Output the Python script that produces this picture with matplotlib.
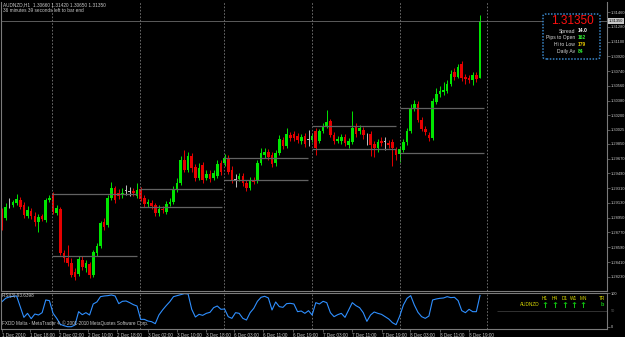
import matplotlib
matplotlib.use("Agg")
import matplotlib.pyplot as plt
from matplotlib.patches import FancyBboxPatch
import matplotlib.transforms as mtransforms

plt.rcParams['font.family'] = ['Liberation Sans', 'DejaVu Sans']

# AUDNZD H1 candles (bar index = hour slot)
opens = [1.29008, 1.28947, 1.29100, 1.29105, 1.29130, 1.29166, 1.29105, 1.28971, 1.29032, 1.28971,
         1.28898, 1.28971, 1.28922, 1.29166, 1.29240, 1.29008, 1.29057, 1.28520, 1.28459, 1.28398,
         1.28288, 1.28264, 1.28434, 1.28337, 1.28386, 1.28251, 1.28520, 1.28605, 1.28898, 1.28861,
         1.29191, 1.29313, 1.29252, 1.29227, 1.29282, 1.29264, 1.29276, 1.29215, 1.29301, 1.29191,
         1.29118, 1.29130, 1.29105, 1.29008, 1.29057, 1.29020, 1.29118, 1.29142, 1.29288, 1.29374,
         1.29654, 1.29532, 1.29703, 1.29569, 1.29435, 1.29593, 1.29435, 1.29484, 1.29435, 1.29459,
         1.29618, 1.29618, 1.29679, 1.29532, 1.29410, 1.29423, 1.29459, 1.29374, 1.29313, 1.29410,
         1.29398, 1.29618, 1.29715, 1.29752, 1.29715, 1.29618, 1.29740, 1.29898, 1.29825, 1.29959,
         1.29972, 1.29947, 1.29886, 1.29947, 1.29898, 1.29898, 1.30008, 1.29886, 1.30008, 1.30069,
         1.30130, 1.29959, 1.29886, 1.29886, 1.29935, 1.29837, 1.29874, 1.30069, 1.30008, 1.30020,
         1.29905, 1.29972, 1.29850, 1.29801, 1.29886, 1.29874, 1.29862, 1.29874, 1.29776, 1.29728,
         1.29776, 1.29874, 1.30008, 1.30277, 1.30338, 1.30142, 1.30033, 1.29959, 1.29923, 1.30362,
         1.30460, 1.30484, 1.30496, 1.30582, 1.30728, 1.30667, 1.30826, 1.30667, 1.30655, 1.30630,
         1.30691, 1.30660]
highs = [1.29069, 1.29130, 1.29191, 1.29166, 1.29240, 1.29203, 1.29142, 1.29093, 1.29069, 1.29020,
         1.28996, 1.28996, 1.29191, 1.29227, 1.29264, 1.29105, 1.29081, 1.28556, 1.28617, 1.28459,
         1.28337, 1.28483, 1.28483, 1.28434, 1.28410, 1.28556, 1.28642, 1.28910, 1.28947, 1.29227,
         1.29386, 1.29337, 1.29301, 1.29313, 1.29349, 1.29325, 1.29313, 1.29374, 1.29325, 1.29227,
         1.29179, 1.29166, 1.29130, 1.29105, 1.29093, 1.29154, 1.29191, 1.29337, 1.29435, 1.29703,
         1.29776, 1.29752, 1.29740, 1.29606, 1.29618, 1.29630, 1.29532, 1.29532, 1.29532, 1.29654,
         1.29654, 1.29728, 1.29715, 1.29581, 1.29484, 1.29496, 1.29496, 1.29410, 1.29447, 1.29447,
         1.29654, 1.29801, 1.29801, 1.29789, 1.29752, 1.29776, 1.29959, 1.29935, 1.30045, 1.29996,
         1.30008, 1.29984, 1.29972, 1.29984, 1.30020, 1.29984, 1.30045, 1.30033, 1.30106, 1.30264,
         1.30155, 1.29996, 1.29947, 1.29972, 1.29972, 1.29923, 1.30252, 1.30106, 1.30081, 1.30057,
         1.29984, 1.30008, 1.29886, 1.29911, 1.29935, 1.29935, 1.29898, 1.29911, 1.29813, 1.29825,
         1.29911, 1.30045, 1.30338, 1.30386, 1.30374, 1.30179, 1.30069, 1.29996, 1.30411, 1.30533,
         1.30557, 1.30606, 1.30630, 1.30752, 1.30777, 1.30826, 1.30862, 1.30704, 1.30691, 1.30728,
         1.30728, 1.31420]
lows = [1.28800, 1.28922, 1.29069, 1.29081, 1.29105, 1.29057, 1.28947, 1.28947, 1.28935, 1.28849,
        1.28776, 1.28910, 1.28898, 1.29142, 1.28996, 1.28983, 1.28495, 1.28410, 1.28361, 1.28227,
        1.28190, 1.28239, 1.28312, 1.28288, 1.28215, 1.28227, 1.28483, 1.28581, 1.28800, 1.28837,
        1.29166, 1.29130, 1.29179, 1.29191, 1.29227, 1.29215, 1.29215, 1.29191, 1.29154, 1.29081,
        1.29081, 1.29057, 1.28971, 1.28971, 1.29008, 1.28996, 1.29093, 1.29118, 1.29264, 1.29349,
        1.29508, 1.29508, 1.29508, 1.29398, 1.29410, 1.29374, 1.29410, 1.29386, 1.29410, 1.29435,
        1.29471, 1.29581, 1.29484, 1.29374, 1.29325, 1.29398, 1.29337, 1.29276, 1.29288, 1.29362,
        1.29374, 1.29593, 1.29679, 1.29654, 1.29569, 1.29581, 1.29715, 1.29789, 1.29801, 1.29886,
        1.29886, 1.29862, 1.29850, 1.29813, 1.29825, 1.29874, 1.29715, 1.29862, 1.29984, 1.30045,
        1.29935, 1.29850, 1.29862, 1.29850, 1.29825, 1.29801, 1.29850, 1.29935, 1.29972, 1.29911,
        1.29837, 1.29703, 1.29691, 1.29752, 1.29825, 1.29776, 1.29801, 1.29581, 1.29654, 1.29630,
        1.29752, 1.29837, 1.29984, 1.30252, 1.30118, 1.30008, 1.29959, 1.29886, 1.29898, 1.30338,
        1.30423, 1.30447, 1.30472, 1.30557, 1.30630, 1.30655, 1.30618, 1.30582, 1.30594, 1.30569,
        1.30606, 1.30650]
closes = [1.28837, 1.29081, 1.29100, 1.29142, 1.29179, 1.29081, 1.28983, 1.29044, 1.28971, 1.28898,
          1.28959, 1.28935, 1.29166, 1.29191, 1.29020, 1.29069, 1.28520, 1.28459, 1.28398, 1.28251,
          1.28227, 1.28446, 1.28349, 1.28398, 1.28251, 1.28532, 1.28605, 1.28886, 1.28837, 1.29191,
          1.29313, 1.29166, 1.29215, 1.29252, 1.29282, 1.29264, 1.29252, 1.29288, 1.29179, 1.29118,
          1.29142, 1.29093, 1.29008, 1.29057, 1.29044, 1.29118, 1.29142, 1.29288, 1.29374, 1.29654,
          1.29532, 1.29703, 1.29557, 1.29435, 1.29557, 1.29410, 1.29484, 1.29423, 1.29496, 1.29606,
          1.29508, 1.29679, 1.29508, 1.29398, 1.29410, 1.29459, 1.29374, 1.29313, 1.29410, 1.29386,
          1.29618, 1.29740, 1.29752, 1.29691, 1.29606, 1.29740, 1.29911, 1.29825, 1.29972, 1.29923,
          1.29923, 1.29898, 1.29935, 1.29850, 1.29898, 1.29947, 1.29801, 1.30008, 1.30069, 1.30118,
          1.29959, 1.29886, 1.29911, 1.29935, 1.29862, 1.29886, 1.30045, 1.29972, 1.30045, 1.29959,
          1.29905, 1.29837, 1.29801, 1.29874, 1.29862, 1.29874, 1.29837, 1.29801, 1.29715, 1.29789,
          1.29874, 1.30008, 1.30289, 1.30338, 1.30142, 1.30033, 1.29996, 1.29923, 1.30374, 1.30460,
          1.30496, 1.30508, 1.30582, 1.30704, 1.30667, 1.30789, 1.30655, 1.30643, 1.30630, 1.30691,
          1.30643, 1.31350]

rsi = [75, 85, 89, 91, 92, 60, 28, 40, 24, 38, 35, 42, 80, 78, 40, 25, 7, 3, 0, 0,
       5, 45, 36, 42, 35, 68, 74, 90, 92, 93, 95, 92, 69, 76, 77, 72, 66, 62, 22, 22,
       17, 15, 9, 35, 50, 63, 75, 90, 93, 96, 99, 98, 52, 29, 37, 34, 40, 43, 57, 62,
       52, 53, 30, 25, 42, 40, 25, 20, 42, 55, 76, 88, 91, 86, 50, 74, 60, 58, 69, 70,
       68, 45, 47, 40, 48, 35, 72, 68, 76, 72, 42, 30, 36, 40, 28, 50, 72, 63, 57, 42,
       16, 35, 44, 40, 37, 30, 23, 12, 6, 32, 65, 85, 93, 65, 43, 30, 25, 32, 80, 83,
       85, 86, 90, 87, 88, 78, 48, 42, 52, 45, 45, 93.6]

# day separators (bar units) and the two daily levels drawn in each day
day_starts = [13.7, 37.8, 60.8, 85.0, 109.1, 132.9]
level_spans = [(13.7, 37.0), (37.8, 60.3), (60.8, 83.9), (85.0, 108.0), (109.1, 132.1)]
level_hi = [1.29240, 1.29301, 1.29679, 1.30069, 1.30289]
level_lo = [1.28483, 1.29081, 1.29410, 1.29789, 1.29740]

price_ticks = [1.31460, 1.31280, 1.31100, 1.30920, 1.30740, 1.30560, 1.30380, 1.30200, 1.30025,
               1.29850, 1.29670, 1.29490, 1.29310, 1.29130, 1.28950, 1.28770, 1.28590, 1.28410,
               1.28230]
time_pos = [0, 7.7, 15.6, 23.6, 31.5, 40.0, 48.0, 55.9, 63.6, 71.5, 79.7, 88.0, 95.9, 104.1,
            111.8, 120.0, 128.0]
time_labels = ['1 Dec 2010', '1 Dec 18:00', '2 Dec 02:00', '2 Dec 10:00', '2 Dec 18:00',
               '3 Dec 02:00', '3 Dec 10:00', '3 Dec 18:00', '6 Dec 03:00', '6 Dec 11:00',
               '6 Dec 19:00', '7 Dec 03:00', '7 Dec 11:00', '7 Dec 19:00', '8 Dec 03:00',
               '8 Dec 11:00', '8 Dec 19:00']

bid = 1.31350
W, H = 625, 337
BULL, BEAR, DOJI = '#00e600', '#e60000', '#c0c0c0'
GRID = '#7a7a7a'
TXT = '#c8c8c8'

fig = plt.figure(figsize=(W / 100, H / 100), dpi=100, facecolor='black')
ax = fig.add_axes([1 / W, 1 - 291 / H, 606 / W, 289 / H], facecolor='black')
axr = fig.add_axes([1 / W, 1 - 329 / H, 606 / W, 36 / H], facecolor='black')

# candles
for i in range(len(closes)):
    o, h, l, c = opens[i], highs[i], lows[i], closes[i]
    col = BULL if c > o else (BEAR if c < o else DOJI)
    ax.vlines(i, l, h, color=col, lw=0.7)
    ax.bar(i, max(abs(c - o), 0.00007), bottom=min(o, c), width=0.72, color=col, linewidth=0)

for (a, b), hi, lo in zip(level_spans, level_hi, level_lo):
    ax.hlines([hi, lo], a, b, color='#626262', lw=0.9)

for d in day_starts:
    for a in (ax, axr):
        a.axvline(d, color=GRID, lw=0.6, ls=(0, (2, 2)))

ax.axhline(bid, color='#6a6a6a', lw=0.6)

ax.set_xlim(-0.27, 165.8)
ax.set_ylim(1.280562, 1.31582)
ax.set_xticks([])
ax.yaxis.tick_right()
ax.set_yticks(price_ticks)
ax.set_yticklabels(['%.5f' % t for t in price_ticks])
ax.tick_params(axis='y', colors=GRID, labelcolor=TXT, labelsize=2.9, length=2, width=0.5, pad=1)
for s in ax.spines.values():
    s.set_color(GRID)
    s.set_linewidth(0.8)
ax.spines['top'].set_visible(False)

# current price tag on the axis
tr = mtransforms.blended_transform_factory(ax.transAxes, ax.transData)
ax.text(1.003, bid, '1.31350', transform=tr, fontsize=2.9, color='black', va='center', ha='left',
        bbox=dict(boxstyle='square,pad=0.2', fc='#c8c8c8', ec='none'))

# indicator panel
axr.plot(range(len(rsi)), rsi, color='#2f8fff', lw=0.8)
axr.set_xlim(-0.27, 165.8)
axr.set_ylim(-6.9, 100.9)
axr.hlines(47, 135.6, 165.8, color='#3a3a3a', lw=0.6)
axr.yaxis.tick_right()
axr.set_yticks([100, 0])
axr.set_yticklabels(['100', '0'])
axr.tick_params(axis='y', colors=GRID, labelcolor=TXT, labelsize=2.9, length=2, width=0.5, pad=1)
axr.set_xticks(time_pos)
axr.set_xticklabels(time_labels, ha='left')
axr.tick_params(axis='x', colors=GRID, labelcolor=TXT, labelsize=3.3, length=2, width=0.5, pad=1.2)
for s in axr.spines.values():
    s.set_color(GRID)
    s.set_linewidth(0.8)
axr.text(1.006, 47, '50', transform=mtransforms.blended_transform_factory(axr.transAxes, axr.transData),
         fontsize=2.9, color='#5a5a5a', va='center', ha='left')

axr.text(1 / 606, 0.944, 'RSI(3) 93.6398', transform=axr.transAxes, fontsize=3.3, color=TXT, va='center')
axr.text(1 / 606, 0.167, 'FXDD Malta - MetaTrader 4, \u00a9 2001-2010 MetaQuotes Software Corp.',
         transform=axr.transAxes, fontsize=3.3, color=TXT, va='center')

# multi-timeframe trend block
tf_x = [545, 555, 565, 574, 583]
for x, t in zip(tf_x, ['H1', 'H4', 'D1', 'W1', 'MN']):
    fig.text(x / W, 1 - 298 / H, t, fontsize=3.4, color='#d8d800', ha='center', va='center')
    fig.text(x / W, 1 - 305 / H, '\u2191', fontsize=6, color='#10c010', ha='center', va='center',
             fontweight='bold', family='DejaVu Sans')
fig.text(602 / W, 1 - 298 / H, 'TR', fontsize=3.4, color='#d8d800', ha='center', va='center')
fig.text(602 / W, 1 - 305 / H, 'b', fontsize=4, color='#10c010', ha='center', va='center',
         fontweight='bold')
fig.text(540 / W, 1 - 305 / H, 'AUDNZD', fontsize=3.4, color='#d8d800', ha='right', va='center')

# header text
fig.text(3 / W, 1 - 5 / H, 'AUDNZD,H1  1.30660 1.31420 1.30650 1.31350', fontsize=3.4, color=TXT,
         va='center')
fig.text(3 / W, 1 - 11 / H, '36 minutes 39 seconds left to bar end', fontsize=3.4, color=TXT,
         va='center')

# info box top-right
box = FancyBboxPatch((543 / W, 1 - 59 / H), 57 / W, 45 / H, boxstyle='round,pad=0,rounding_size=0.006',
                     transform=fig.transFigure, fc='black', ec='#3a86c8', lw=1.1, ls=(0, (1, 1)))
fig.patches.append(box)
fig.text(594 / W, 1 - 21 / H, '1.31350', fontsize=8.5, color='#ff1010', ha='right', va='center')
rows = [('Spread', '14.0', '#ffffff', 31), ('Pips to Open', '162', '#33ee33', 37.5),
        ('Hi to Low', '179', '#e8c800', 44.5), ('Daily Av', '84', '#33ee33', 51.5)]
for lab, val, col, y in rows:
    fig.text(575 / W, 1 - y / H, lab, fontsize=3.6, color='#d8d8d8', ha='right', va='center')
    fig.text(578 / W, 1 - y / H, val, fontsize=3.6, color=col, ha='left', va='center',
             fontweight='bold')

fig.savefig('out.png', dpi=100, facecolor='black')
